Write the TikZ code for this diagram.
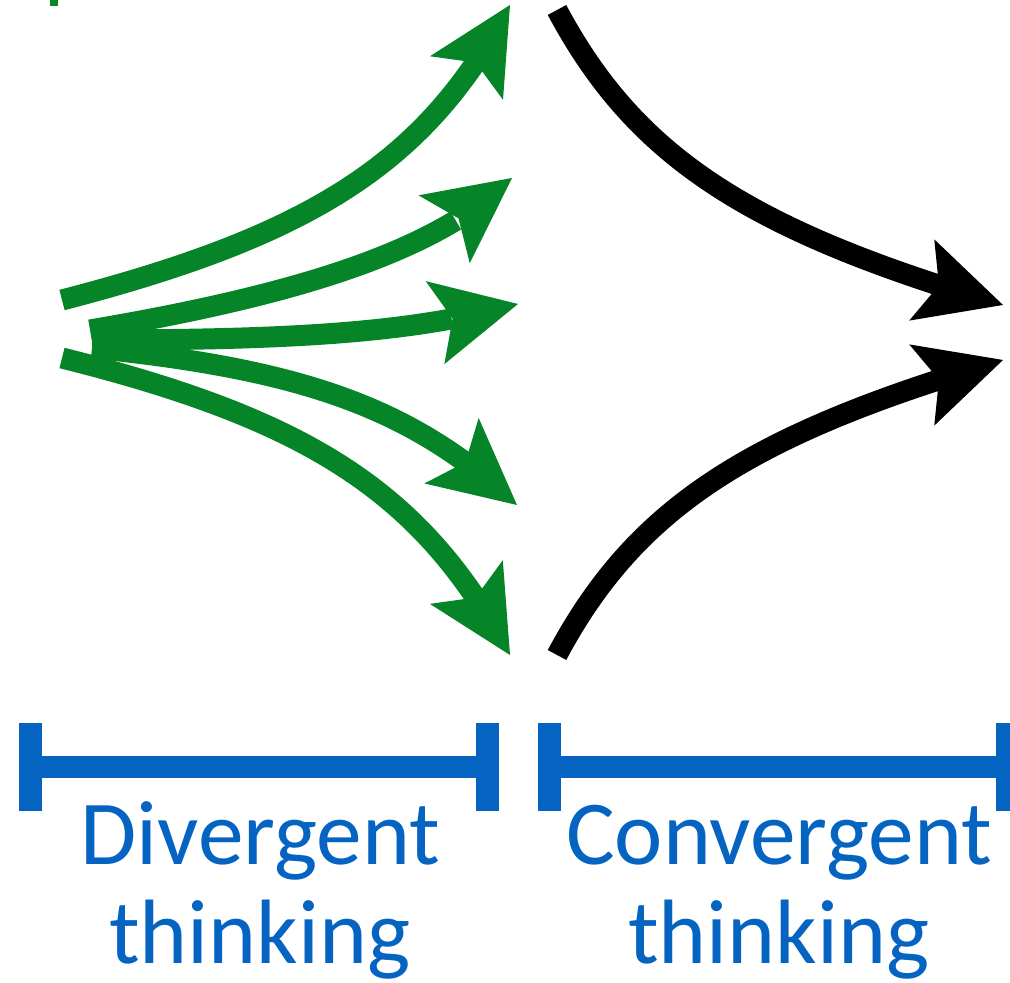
\documentclass[tikz,border=0pt]{standalone}
\usepackage{fontspec}
\setmainfont{Carlito}
\usepackage{tikz}
\usetikzlibrary{arrows.meta,bending}

\definecolor{ideagreen}{RGB}{6,133,40}
\definecolor{phaseblue}{RGB}{5,99,193}

\tikzset{
    flow/.style={line width=0.21cm,
        -{Stealth[length=0.85cm,width=0.85cm,inset=0.18cm,line width=0pt]}},
    span/.style={phaseblue,line width=0.22cm,
        {Bar[width=0.88cm,line width=0.23cm]}-{Bar[width=0.88cm,line width=0.23cm]}},
    phase/.style={phaseblue,align=center,inner sep=0pt,
        font=\fontsize{26}{27.9}\selectfont},
}

\begin{document}
\begin{tikzpicture}[x=0.01cm,y=-0.01cm]

        \useasboundingbox (0,0) rectangle (1010,983);
        \clip (0,0) rectangle (1010,983);

        % divergent fan (green)
        \coordinate (A1) at (62,300);  \coordinate (B1) at (510,5);
        \coordinate (A2) at (90,330);  \coordinate (B2) at (512,178);
        \coordinate (A3) at (92,340);  \coordinate (B3) at (518,304);
        \coordinate (A4) at (92,348);  \coordinate (B4) at (517,505);
        \coordinate (A5) at (62,358);  \coordinate (B5) at (510,655);

        % convergent pair (black)
        \coordinate (C1) at (557,10);  \coordinate (E1) at (1003,305);
        \coordinate (C2) at (557,655); \coordinate (E2) at (1003,360);

        \fill[ideagreen] (50,0) rectangle (58,6);

        \draw[flow,ideagreen] (A1) .. controls (317,234) and (428,160) .. (B1);
        \draw[flow,ideagreen] (A2) .. controls (314,292) and (440,247) .. (B2);
        \draw[flow,ideagreen] (A3) .. controls (311,340) and (417,331) .. (B3);
        \draw[flow,ideagreen] (A4) .. controls (307,370) and (413,409) .. (B4);
        \draw[flow,ideagreen] (A5) .. controls (314,421) and (424,495) .. (B5);

        \draw[flow] (C1) .. controls (635,156) and (747,230) .. (E1);
        \draw[flow] (C2) .. controls (635,509) and (747,435) .. (E2);

        % phase brackets
        \coordinate (P1) at (19,767);  \coordinate (Q1) at (499,767);
        \coordinate (P2) at (538,767); \coordinate (Q2) at (1019,767);
        \draw[span] (P1) -- (Q1);
        \draw[span] (P2) -- (Q2);

        % base = last line
        \node[phase,anchor=base] (div) at (260,963) {Divergent\\thinking};
        \node[phase,anchor=base] (conv) at (779,963) {Convergent\\thinking};

\end{tikzpicture}
\end{document}
